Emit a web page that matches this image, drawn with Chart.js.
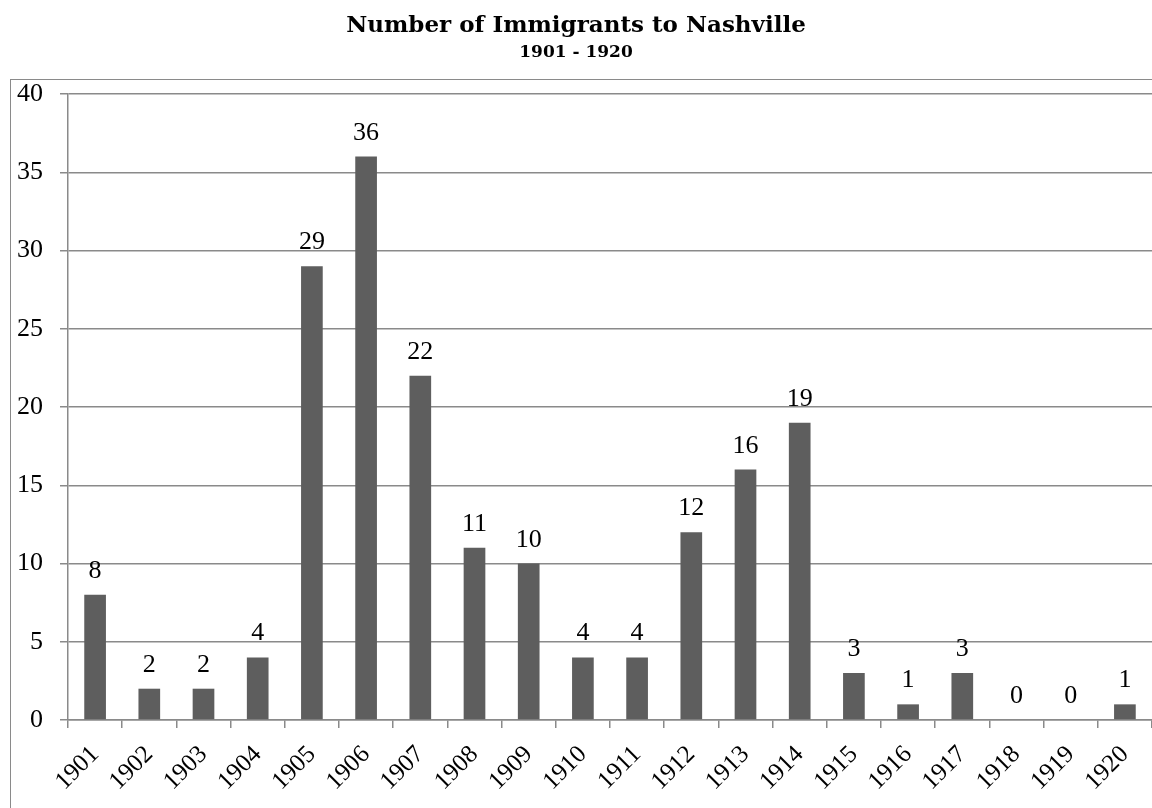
<!DOCTYPE html>
<html lang="en">
<head>
    <meta charset="UTF-8">
    <title>Number of Immigrants to Nashville</title>
    <script src="https://cdn.jsdelivr.net/npm/chart.js"></script>
    <style>
        html, body {
            margin: 0;
            padding: 0;
            background: #fff;
            overflow: hidden;
        }
        .wrap {
            position: relative;
            width: 1152px;
            height: 808px;
        }
        .frame {
            position: absolute;
            left: 10px;
            top: 79px;
            width: 1200px;
            height: 800px;
            border: 1px solid #8a8a8a;
            pointer-events: none;
        }
    </style>
</head>
<body>
    <div class="wrap">
        <canvas id="barChart" width="1152" height="808"></canvas>
        <div class="frame"></div>
    </div>

    <script>
        // data
        var years = ['1901', '1902', '1903', '1904', '1905', '1906', '1907', '1908', '1909', '1910',
                     '1911', '1912', '1913', '1914', '1915', '1916', '1917', '1918', '1919', '1920'];
        var immigrants = [8, 2, 2, 4, 29, 36, 22, 11, 10, 4, 4, 12, 16, 19, 3, 1, 3, 0, 0, 1];
        var yTicks = [0, 5, 10, 15, 20, 25, 30, 35, 40];

        var serif = "'Liberation Serif', 'DejaVu Serif', serif";
        var titleSerif = "'DejaVu Serif', 'Liberation Serif', serif";

        // values above bars
        var valueLabels = {
            id: 'valueLabels',
            afterDatasetsDraw: function(chart) {
                var ctx = chart.ctx;
                var meta = chart.getDatasetMeta(0);
                ctx.save();
                ctx.font = '26px ' + serif;
                ctx.fillStyle = '#000';
                ctx.textAlign = 'center';
                ctx.textBaseline = 'alphabetic';
                meta.data.forEach(function(bar, i) {
                    ctx.fillText(String(immigrants[i]), bar.x, bar.y - 17);
                });
                ctx.restore();
            }
        };

        Chart.defaults.font.family = serif;
        Chart.defaults.color = '#000';

        var ctx = document.getElementById('barChart').getContext('2d');
        var chart = new Chart(ctx, {
            type: 'bar',
            data: {
                labels: years,
                datasets: [{
                    label: 'Immigrants',
                    data: immigrants,
                    backgroundColor: '#5e5e5e',
                    borderWidth: 0,
                    categoryPercentage: 1.0,
                    barPercentage: 0.4
                }]
            },
            options: {
                responsive: false,
                animation: false,
                devicePixelRatio: 1,
                layout: {
                    padding: { left: 0, right: 0, top: 0, bottom: 0 }
                },
                plugins: {
                    legend: { display: false },
                    tooltip: { enabled: false },
                    title: {
                        display: true,
                        text: 'Number of Immigrants to Nashville',
                        font: { size: 23, weight: 'bold', family: titleSerif },
                        color: '#000',
                        padding: { top: 12, bottom: 0 }
                    },
                    subtitle: {
                        display: true,
                        text: '1901 - 1920',
                        font: { size: 17, weight: 'bold', family: titleSerif },
                        color: '#000',
                        padding: { top: 3, bottom: 31 }
                    }
                },
                scales: {
                    x: {
                        grid: {
                            display: true,
                            drawOnChartArea: false,
                            drawTicks: true,
                            tickLength: 8,
                            offset: true,
                            color: '#8a8a8a',
                            lineWidth: 1.5
                        },
                        border: { color: '#8a8a8a', width: 1.5 },
                        ticks: {
                            font: { size: 25, family: serif },
                            color: '#000',
                            minRotation: 45,
                            maxRotation: 45,
                            autoSkip: false,
                            padding: 12
                        },
                        afterFit: function(scale) {
                            scale.height = 88;
                            scale.paddingLeft = 0;
                            scale.paddingRight = 0;
                        }
                    },
                    y: {
                        min: 0,
                        max: 40,
                        afterBuildTicks: function(scale) {
                            scale.ticks = yTicks.map(function(v) { return { value: v }; });
                        },
                        grid: {
                            color: '#8a8a8a',
                            lineWidth: 1.5,
                            tickLength: 8
                        },
                        border: { color: '#8a8a8a', width: 1.5 },
                        ticks: {
                            font: { size: 26, family: serif },
                            color: '#000',
                            padding: 17
                        },
                        afterFit: function(scale) { scale.width = 68; }
                    }
                }
            },
            plugins: [valueLabels]
        });
    </script>
</body>
</html>
